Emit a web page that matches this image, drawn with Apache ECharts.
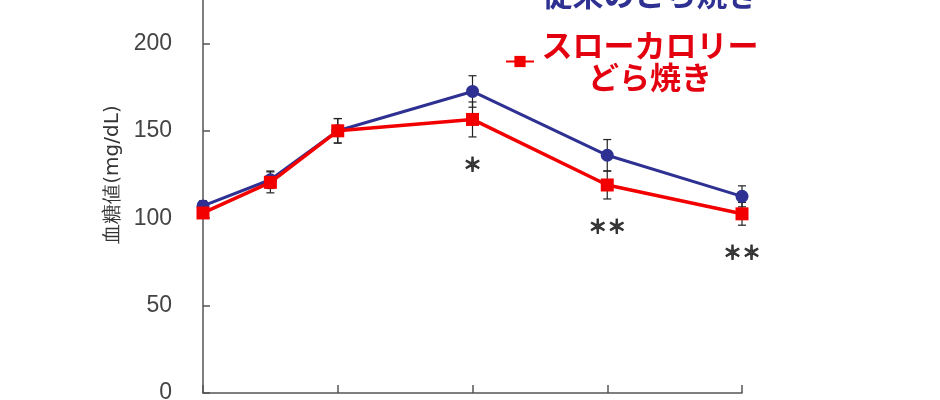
<!DOCTYPE html>
<html>
<head>
<meta charset="utf-8">
<script src="https://cdn.jsdelivr.net/npm/echarts@6/dist/echarts.min.js"></script>
<style>html,body{margin:0;padding:0;background:#fff}#c{width:940px;height:400px}</style>
</head>
<body>
<div id="c"></div>
<script>
const times = [0, 15, 30, 60, 90, 120];
const blueName = '従来のどら焼き';
const redName = 'スローカロリー\nどら焼き';
const blueVals = [107, 122, 150, 172.5, 136, 112.5];
const blueErr = [3, 5, 7, 9, 9, 6];
const redVals = [103, 120.5, 150, 156.5, 119, 102.5];
const redErr = [3, 6, 7, 10, 8, 6.5];
const sigMarks = ['', '', '', '＊', '＊＊', '＊＊'];
const yTicks = [0, 50, 100, 150, 200, 250];
const yName = '血糖値(mg/dL)';

const BLUE = '#2e3192';
const RED = '#f20000';

const chart = echarts.init(document.getElementById('c'), null, {renderer: 'canvas'});

function errData(vals, errs) {
  return times.map((t, i) => [t, vals[i], errs[i]]);
}
function errRender(params, api) {
  const x = api.value(0), v = api.value(1), e = api.value(2);
  const top = api.coord([x, v + e]);
  const bot = api.coord([x, v - e]);
  const hw = 4;
  const st = {stroke: '#222', lineWidth: 1.2};
  return {type: 'group', children: [
    {type: 'line', shape: {x1: top[0], y1: top[1], x2: bot[0], y2: bot[1]}, style: st},
    {type: 'line', shape: {x1: top[0] - hw, y1: top[1], x2: top[0] + hw, y2: top[1]}, style: st},
    {type: 'line', shape: {x1: bot[0] - hw, y1: bot[1], x2: bot[0] + hw, y2: bot[1]}, style: st}
  ]};
}
function legendFmt(name) {
  return name.split('\n').map(s => '{t|' + s + '}').join('\n');
}
const legendFont = {fontSize: 31, fontWeight: 'bold', fontFamily: 'Noto Sans CJK JP', lineHeight: 32, width: 222, align: 'center'};

chart.setOption({
  animation: false,
  grid: {left: 203, right: 198, top: -44, bottom: 7, outerBoundsMode: 'none', containLabel: false},
  legend: [
    {data: [blueName], orient: 'vertical', left: 500, top: -26, itemWidth: 28, itemHeight: 14,
     formatter: legendFmt, textStyle: {rich: {t: Object.assign({color: BLUE}, legendFont)}}},
    {data: [redName], orient: 'vertical', left: 500, top: 25, itemWidth: 28, itemHeight: 14,
     formatter: legendFmt, textStyle: {rich: {t: Object.assign({color: '#e3000f'}, legendFont)}}}
  ],
  xAxis: {
    type: 'value', min: 0, max: 120, interval: 30,
    axisLine: {lineStyle: {color: '#555', width: 1.5}},
    axisTick: {inside: true, length: 8, lineStyle: {color: '#555', width: 1.5}},
    axisLabel: {show: false},
    splitLine: {show: false}
  },
  yAxis: {
    type: 'value', min: yTicks[0], max: yTicks[yTicks.length - 1], interval: 50,
    name: yName, nameLocation: 'middle', nameGap: 78, nameRotate: 90,
    nameTextStyle: {fontSize: 20, color: '#333', fontFamily: 'DejaVu Sans'},
    axisLine: {show: true, lineStyle: {color: '#555', width: 1.5}},
    axisTick: {show: true, inside: true, length: 7, lineStyle: {color: '#555', width: 1.5}},
    axisLabel: {fontSize: 23, color: '#444', margin: 31, fontFamily: 'Liberation Sans'},
    splitLine: {show: false}
  },
  series: [
    {type: 'custom', name: 'errB', renderItem: errRender, data: errData(blueVals, blueErr), z: 1, silent: true},
    {type: 'custom', name: 'errR', renderItem: errRender, data: errData(redVals, redErr), z: 1, silent: true},
    {type: 'line', name: blueName, data: times.map((t, i) => [t, blueVals[i]]), z: 2,
     symbol: 'circle', symbolSize: 13, lineStyle: {color: BLUE, width: 3}, itemStyle: {color: BLUE}},
    {type: 'line', name: redName, data: times.map((t, i) => [t, redVals[i]]), z: 3,
     symbol: 'rect', symbolSize: 13, lineStyle: {color: RED, width: 3.5}, itemStyle: {color: RED}},
    {type: 'scatter', name: 'sig', symbolSize: 0, z: 4, silent: true,
     data: times.map((t, i) => ({value: [t, redVals[i] - redErr[i]], mark: sigMarks[i]})).filter(d => d.mark),
     label: {show: true, position: 'bottom', distance: 18, color: '#111', fontSize: 19, fontWeight: 'bold',
       fontFamily: 'Noto Sans CJK JP', textBorderColor: '#111', textBorderWidth: 0.9,
       formatter: p => p.data.mark}}
  ]
});
</script>
</body>
</html>
